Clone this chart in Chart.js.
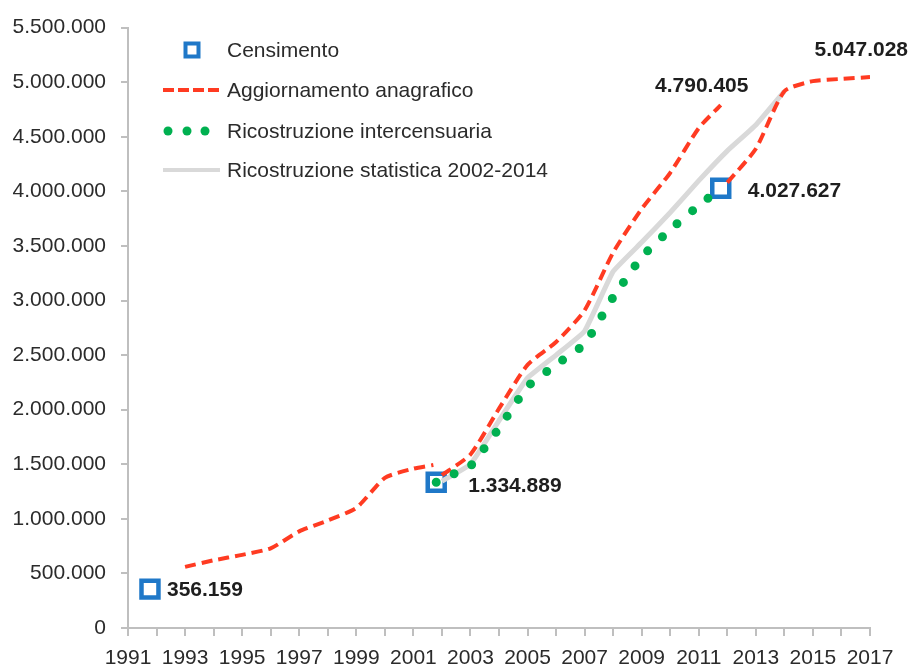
<!DOCTYPE html>
<html>
<head>
<meta charset="utf-8">
<script src="https://cdn.jsdelivr.net/npm/chart.js@4.4.0/dist/chart.umd.min.js"></script>
<style>
  html, body { margin: 0; padding: 0; background: #ffffff; }
  #wrap { width: 913px; height: 668px; }
</style>
</head>
<body>
<div id="wrap"><canvas id="c" width="913" height="668"></canvas></div>
<script>
// ---- Data ----
const seriesNames = ['Censimento', 'Aggiornamento anagrafico', 'Ricostruzione intercensuaria', 'Ricostruzione statistica 2002-2014'];

const censusYears  = [1991.77, 2001.8, 2011.77];
const censusValues = [356159, 1334889, 4027627];

const anag1Years  = [1993, 1994, 1995, 1996, 1997, 1998, 1999, 2000, 2001, 2001.7];
const anag1Values = [560000, 620000, 670000, 730000, 885000, 985000, 1100000, 1375000, 1460000, 1493000];
const anag2Years  = [2002, 2003, 2004, 2005, 2006, 2007, 2008, 2009, 2010, 2011, 2011.77];
const anag2Values = [1400000, 1590000, 2010000, 2410000, 2620000, 2910000, 3440000, 3840000, 4170000, 4580000, 4790405];
const anag3Years  = [2012, 2013, 2014, 2015, 2016, 2017];
const anag3Values = [4080000, 4390000, 4917000, 5010000, 5030000, 5047028];

const interYears  = [2001.8, 2002, 2003, 2004, 2005, 2006, 2007, 2008, 2009, 2010, 2011, 2011.77];
const interValues = [1334889, 1365000, 1484000, 1830000, 2213000, 2413000, 2600000, 3030000, 3400000, 3650000, 3870000, 4027627];

const statYears  = [2002, 2003, 2004, 2005, 2006, 2007, 2008, 2009, 2010, 2011, 2012, 2013, 2014];
const statValues = [1345000, 1500000, 1900000, 2290000, 2500000, 2720000, 3266000, 3533000, 3806000, 4098000, 4371000, 4608000, 4917000];

const xTickMin = 1991, xTickMax = 2017, xTickStep = 1;
const yTickMin = 0, yTickMax = 5500000, yTickStep = 500000;

// Labels attached to data points: [x, y] from the data above
const pointLabels = [
  { x: censusYears[0], y: censusValues[0], pos: 'right1' },
  { x: censusYears[1], y: censusValues[1], pos: 'right2' },
  { x: censusYears[2], y: censusValues[2], pos: 'right3' },
  { x: anag2Years[anag2Years.length - 1], y: anag2Values[anag2Values.length - 1], pos: 'above1' },
  { x: anag3Years[anag3Years.length - 1], y: anag3Values[anag3Values.length - 1], pos: 'above2' }
];

// ---- helpers ----
function fmtIt(v) {
  return String(Math.round(v)).replace(/\B(?=(\d{3})+(?!\d))/g, '.');
}
function pts(xs, ys) { return xs.map((x, i) => ({ x: x, y: ys[i] })); }
function gap(xs) { return [{ x: xs[xs.length - 1], y: null }]; }

const FONT = "'Liberation Sans', Arial, sans-serif";
const COL_BLUE = '#1f78c8';
const COL_RED = '#ff3b22';
const COL_GREEN = '#00b050';
const COL_GREY = '#d9d9d9';
const COL_TEXT = '#2b2b2b';

const anagData = pts(anag1Years, anag1Values)
  .concat(gap(anag1Years))
  .concat(pts(anag2Years, anag2Values))
  .concat(gap(anag2Years))
  .concat(pts(anag3Years, anag3Values));

// ---- custom legend + labels plugin ----
const overlayPlugin = {
  id: 'overlay',
  afterDraw(chart) {
    const ctx = chart.ctx;
    const xs = chart.scales.x, ys = chart.scales.y;
    ctx.save();
    // Legend
    const lx0 = 163, lx1 = 220, tx = 227;
    const rows = [50, 90, 131, 170];
    // censimento marker
    ctx.strokeStyle = COL_BLUE; ctx.lineWidth = 4; ctx.fillStyle = '#fff';
    ctx.beginPath(); ctx.rect(192 - 6.5, rows[0] - 6.5, 13, 13); ctx.fill(); ctx.stroke();
    // red dashed
    ctx.strokeStyle = COL_RED; ctx.lineWidth = 4; ctx.setLineDash([11, 4]); ctx.lineCap = 'butt';
    ctx.beginPath(); ctx.moveTo(lx0, rows[1]); ctx.lineTo(lx1, rows[1]); ctx.stroke();
    ctx.setLineDash([]);
    // green dots
    ctx.fillStyle = COL_GREEN;
    [168, 187, 205].forEach(cx => { ctx.beginPath(); ctx.arc(cx, rows[2], 4.5, 0, Math.PI * 2); ctx.fill(); });
    // grey line
    ctx.strokeStyle = COL_GREY; ctx.lineWidth = 4;
    ctx.beginPath(); ctx.moveTo(lx0, rows[3]); ctx.lineTo(lx1, rows[3]); ctx.stroke();
    // texts
    ctx.fillStyle = COL_TEXT; ctx.font = '21px ' + FONT; ctx.textBaseline = 'middle'; ctx.textAlign = 'left';
    seriesNames.forEach((n, i) => ctx.fillText(n, tx, rows[i] + 1));

    // Point labels
    ctx.font = 'bold 21px ' + FONT; ctx.fillStyle = '#1e1e1e';
    pointLabels.forEach(l => {
      const px = xs.getPixelForValue(l.x), py = ys.getPixelForValue(l.y);
      const t = fmtIt(l.y);
      if (l.pos === 'right1') { ctx.textAlign = 'left'; ctx.fillText(t, px + 17, py + 1); }
      else if (l.pos === 'right2') { ctx.textAlign = 'left'; ctx.fillText(t, px + 32, py + 4); }
      else if (l.pos === 'right3') { ctx.textAlign = 'left'; ctx.fillText(t, px + 27, py + 3); }
      else if (l.pos === 'above1') { ctx.textAlign = 'center'; ctx.fillText(t, px - 19, py - 19); }
      else if (l.pos === 'above2') { ctx.textAlign = 'right'; ctx.fillText(t, px + 38, py - 27); }
    });
    ctx.restore();
  }
};

Chart.defaults.font.family = FONT;
Chart.defaults.font.size = 21;
Chart.defaults.color = COL_TEXT;

new Chart(document.getElementById('c'), {
  type: 'line',
  data: {
    datasets: [
      {
        label: seriesNames[0],
        data: pts(censusYears, censusValues),
        showLine: false,
        pointStyle: 'rect',
        pointRadius: 12,
        pointBorderWidth: 4.5,
        pointBackgroundColor: '#ffffff',
        pointBorderColor: COL_BLUE,
        order: 10
      },
      {
        label: seriesNames[1],
        data: anagData,
        borderColor: COL_RED,
        borderWidth: 4,
        borderDash: [11, 6],
        pointRadius: 0,
        tension: 0.2,
        spanGaps: false,
        fill: false,
        order: 2
      },
      {
        label: seriesNames[2],
        data: pts(interYears, interValues),
        borderColor: COL_GREEN,
        borderWidth: 9,
        borderDash: [0, 20],
        borderCapStyle: 'round',
        pointRadius: 0,
        tension: 0.1,
        fill: false,
        order: 1
      },
      {
        label: seriesNames[3],
        data: pts(statYears, statValues),
        borderColor: COL_GREY,
        borderWidth: 5,
        pointRadius: 0,
        tension: 0.1,
        fill: false,
        order: 3
      }
    ]
  },
  options: {
    responsive: false,
    animation: false,
    events: [],
    layout: { padding: { left: 10, right: 43, top: 24, bottom: 0 } },
    plugins: { legend: { display: false }, tooltip: { enabled: false } },
    scales: {
      x: {
        type: 'linear',
        min: xTickMin, max: xTickMax,
        afterFit: s => { s.height = 40; },
        border: { color: '#bfbfbf', width: 2 },
        grid: { drawOnChartArea: false, drawTicks: true, tickLength: 8, color: '#bfbfbf', lineWidth: 2 },
        ticks: {
          stepSize: xTickStep, autoSkip: false, maxRotation: 0, padding: 12,
          font: { size: 21, lineHeight: 1 }, color: COL_TEXT,
          callback: v => (Math.round(v) % 2 === 1 ? String(Math.round(v)) : '')
        }
      },
      y: {
        min: yTickMin, max: yTickMax,
        afterFit: s => { s.width = 118; },
        border: { color: '#bfbfbf', width: 2 },
        grid: { drawOnChartArea: false, drawTicks: true, tickLength: 7, color: '#bfbfbf', lineWidth: 2 },
        ticks: {
          stepSize: yTickStep, padding: 15, color: COL_TEXT,
          font: { size: 21 },
          callback: v => fmtIt(v)
        }
      }
    }
  },
  plugins: [overlayPlugin]
});
</script>
</body>
</html>
